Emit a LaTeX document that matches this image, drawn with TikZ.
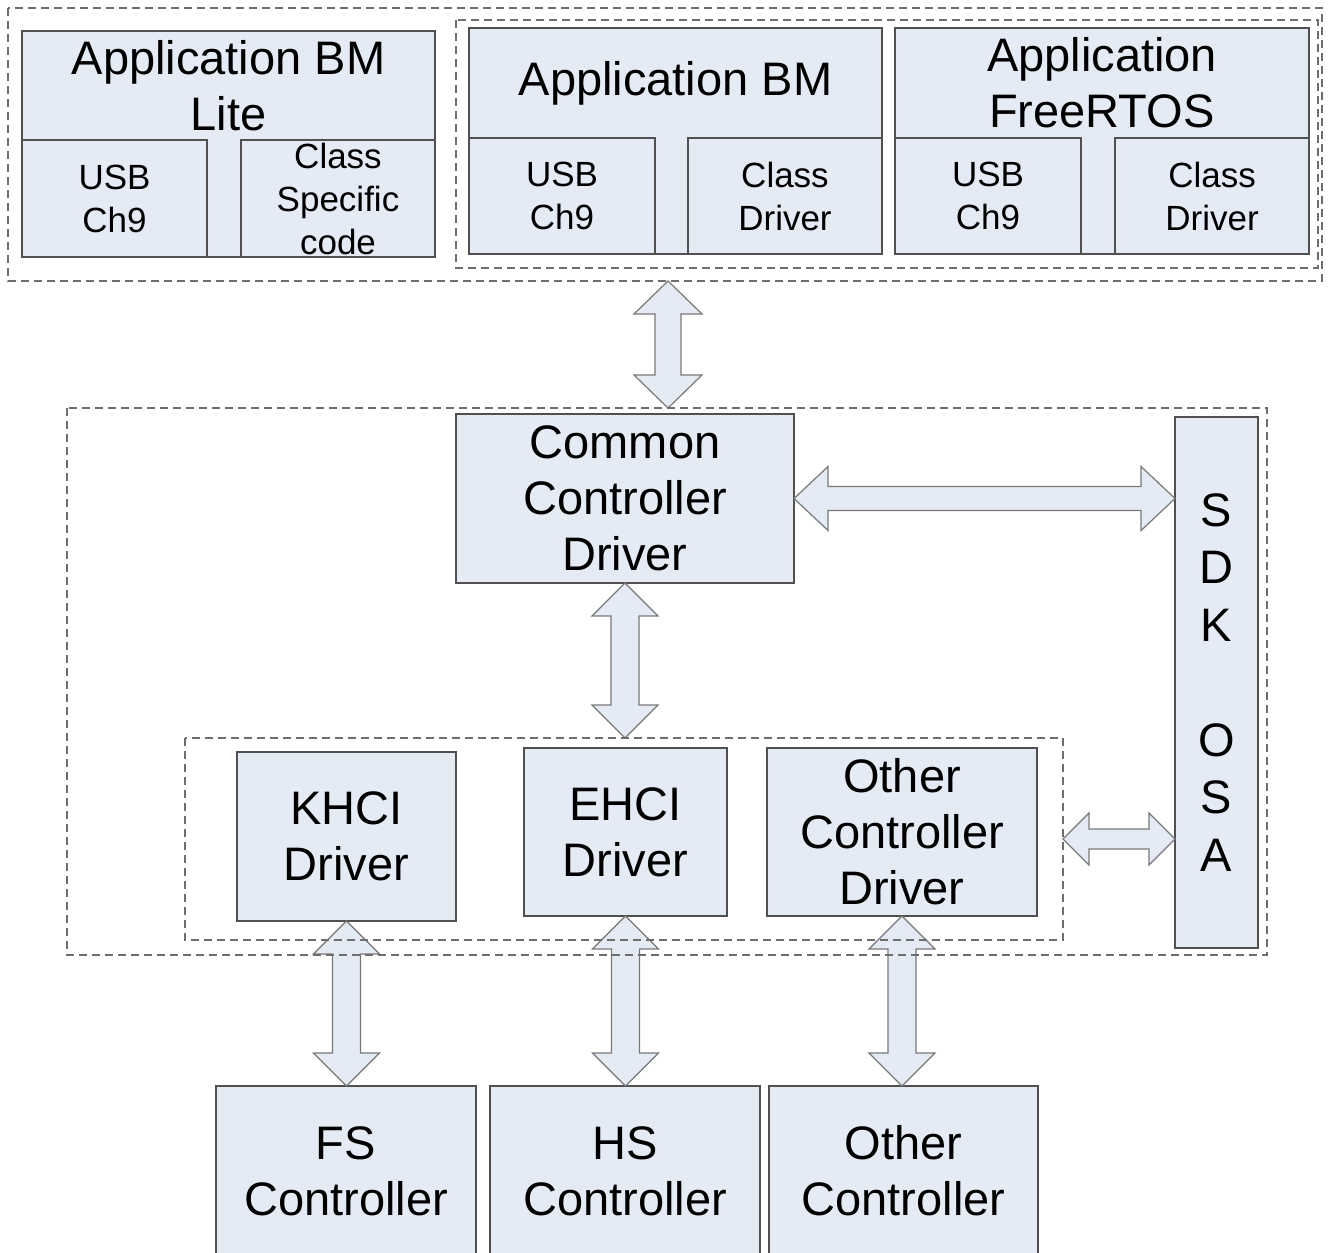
\documentclass[tikz,border=0pt]{standalone}
\usepackage{fontspec}
\setmainfont{Liberation Sans}
\usetikzlibrary{calc}
\definecolor{boxfill}{RGB}{229,235,245}
\definecolor{boxline}{RGB}{80,80,80}
\definecolor{dashline}{RGB}{110,110,110}
\definecolor{arrline}{RGB}{120,120,120}
\tikzset{
 blk/.style={draw=boxline, fill=boxfill, line width=1.3pt, inner sep=0pt, outer sep=0pt, align=center, font=\fontsize{47}{56}\selectfont},
 sub/.style={blk, font=\fontsize{35}{43}\selectfont},
 ttl/.style={inner sep=0pt, outer sep=0pt, align=center, font=\fontsize{47}{56}\selectfont},
 grp/.style={inner sep=0pt, outer sep=0pt},
 grpline/.style={draw=dashline, dash pattern=on 8pt off 5pt, line width=1.4pt},
 barrow/.style={draw=arrline, fill=boxfill, line width=1.2pt, line join=miter},
}
\newcommand\vblk[5]{%
\path[barrow] let \p1=(#1), \p2=(#2) in
 (\x1,\y1) -- ({\x1+#3},{\y1-#5}) -- ({\x1+#4},{\y1-#5}) -- ({\x1+#4},{\y2+#5}) -- ({\x1+#3},{\y2+#5}) -- (\x1,\y2)
 -- ({\x1-#3},{\y2+#5}) -- ({\x1-#4},{\y2+#5}) -- ({\x1-#4},{\y1-#5}) -- ({\x1-#3},{\y1-#5}) -- cycle;}
\newcommand\hblk[5]{%
\path[barrow] let \p1=(#1), \p2=(#2) in
 (\x1,\y1) -- ({\x1+#5},{\y1+#3}) -- ({\x1+#5},{\y1+#4}) -- ({\x2-#5},{\y1+#4}) -- ({\x2-#5},{\y1+#3}) -- (\x2,\y1)
 -- ({\x2-#5},{\y1-#3}) -- ({\x2-#5},{\y1-#4}) -- ({\x1+#5},{\y1-#4}) -- ({\x1+#5},{\y1-#3}) -- cycle;}
\begin{document}
\begin{tikzpicture}[x=1pt,y=-1pt]
\useasboundingbox[fill=white] (0,0) rectangle (1328,1253);
% groups (outlines drawn later)
\node[grp, minimum width=1314pt, minimum height=273pt] (tgrp) at (665,144.5) {};
\node[grp, minimum width=862pt, minimum height=248pt] (tigrp) at (887,144) {};
\node[grp, minimum width=1200pt, minimum height=547pt] (mgrp) at (667,681.5) {};
\node[grp, minimum width=878pt, minimum height=202pt] (igrp) at (624,839) {};
% application boxes
\node[blk, minimum width=413pt, minimum height=226pt] (liteBox) at (228.5,144) {};
\node[ttl] (liteT) at (228.5,85.5) {Application BM\\Lite};
\node[sub, minimum width=185pt, minimum height=117pt] (liteUsb) at (114.5,198.5) {USB\\Ch9};
\node[sub, minimum width=194pt, minimum height=117pt] (liteCls) at (338,198.5) {Class\\Specific\\code};
\node[blk, minimum width=413pt, minimum height=226pt] (bmBox) at (675.5,141) {};
\node[ttl] (bmT) at (675.5,83) {Application BM};
\node[sub, minimum width=186pt, minimum height=116pt] (bmUsb) at (562,196) {USB\\Ch9};
\node[sub, minimum width=194pt, minimum height=116pt] (bmCls) at (785,196) {Class\\Driver};
\node[blk, minimum width=414pt, minimum height=226pt] (rtBox) at (1102,141) {};
\node[ttl] (rtT) at (1102,83) {Application\\FreeRTOS};
\node[sub, minimum width=186pt, minimum height=116pt] (rtUsb) at (988,196) {USB\\Ch9};
\node[sub, minimum width=194pt, minimum height=116pt] (rtCls) at (1212,196) {Class\\Driver};
% middle
\node[blk, minimum width=338pt, minimum height=169pt] (ccd) at (625,498.5) {Common\\Controller\\Driver};
\node[blk, minimum width=83pt, minimum height=531pt, font=\fontsize{47}{57.5}\selectfont] (sdk) at (1216.5,682.5) {S\\D\\K\\\mbox{}\\O\\S\\A};
\node[blk, minimum width=219pt, minimum height=169pt] (khci) at (346.5,836.5) {KHCI\\Driver};
\node[blk, minimum width=203pt, minimum height=168pt] (ehci) at (625.5,832) {EHCI\\Driver};
\node[blk, minimum width=270pt, minimum height=168pt] (othd) at (902,832) {Other\\Controller\\Driver};
% bottom
\node[blk, minimum width=260pt, minimum height=170pt] (fs) at (346,1171) {FS\\Controller};
\node[blk, minimum width=270pt, minimum height=170pt] (hs) at (625,1171) {HS\\Controller};
\node[blk, minimum width=269pt, minimum height=170pt] (othc) at (903.5,1171) {Other\\Controller};
% block arrows
\coordinate (ax) at (668,0);
\vblk{tgrp.south -| ax}{mgrp.north -| ax}{34pt}{13pt}{33pt}
\vblk{ccd.south}{ccd.south |- igrp.north}{33pt}{14pt}{33pt}
\vblk{khci.south}{khci.south |- fs.north}{33pt}{14pt}{33pt}
\vblk{ehci.south}{ehci.south |- hs.north}{33pt}{14pt}{33pt}
\vblk{othd.south}{othd.south |- othc.north}{33pt}{14pt}{33pt}
\hblk{ccd.east}{ccd.east -| sdk.west}{32pt}{12pt}{34pt}
\hblk{igrp.east}{igrp.east -| sdk.west}{26pt}{10pt}{26pt}
% group outlines
\draw[grpline] (tgrp.north west) rectangle (tgrp.south east);
\draw[grpline] (tigrp.north west) rectangle (tigrp.south east);
\draw[grpline] (mgrp.north west) rectangle (mgrp.south east);
\draw[grpline] (igrp.north west) rectangle (igrp.south east);
\end{tikzpicture}
\end{document}
